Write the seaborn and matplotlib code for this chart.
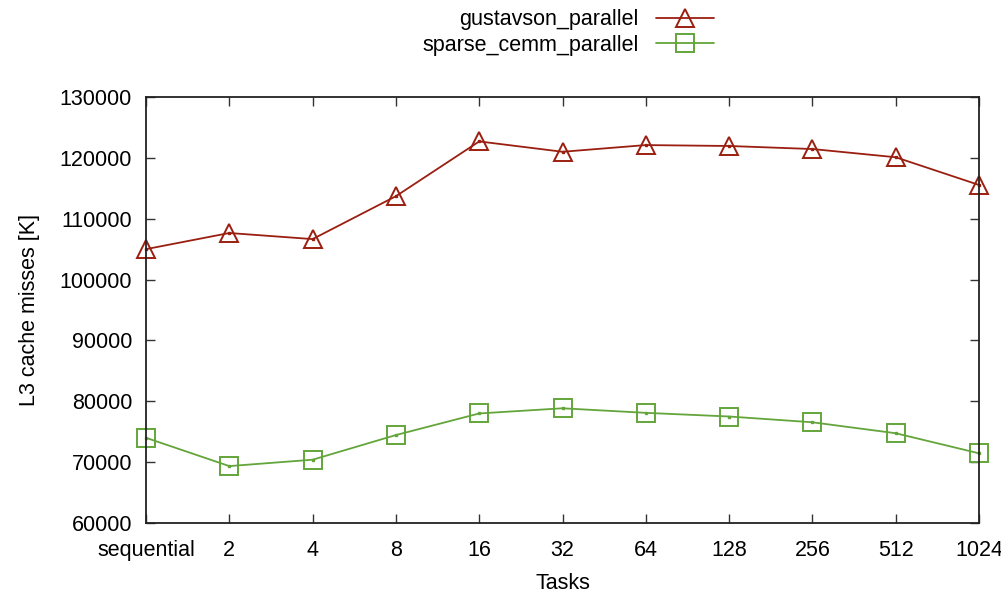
import matplotlib
matplotlib.use("Agg")
import matplotlib.pyplot as plt
import seaborn as sns
import pandas as pd

tasks = ["sequential", "2", "4", "8", "16", "32", "64", "128", "256", "512", "1024"]
gustavson_parallel = [105000, 107650, 106650, 113700, 122700, 121000, 122100, 121950, 121450, 120100, 115550]
sparse_cemm_parallel = [74000, 69350, 70400, 74450, 78000, 78850, 78100, 77500, 76550, 74750, 71450]
series_names = ["gustavson_parallel", "sparse_cemm_parallel"]

sns.set_theme(style="white")
plt.rcParams["font.family"] = ["Liberation Sans", "DejaVu Sans"]
plt.rcParams["text.color"] = "black"
plt.rcParams["axes.labelcolor"] = "black"
plt.rcParams["xtick.color"] = "black"
plt.rcParams["ytick.color"] = "black"

df = pd.DataFrame({
    "pos": list(range(len(tasks))) * 2,
    "misses": gustavson_parallel + sparse_cemm_parallel,
    "series": [series_names[0]] * len(tasks) + [series_names[1]] * len(tasks),
})

colors = {"gustavson_parallel": "#9a1f10", "sparse_cemm_parallel": "#63a53a"}
markers = {"gustavson_parallel": "^", "sparse_cemm_parallel": "s"}

fig = plt.figure(figsize=(10.01, 5.94), dpi=100)
ax = fig.add_axes([146 / 1001, 1 - 523 / 594, (979 - 146) / 1001, (523 - 97) / 594])

fs = 15.5
for name in series_names:
    sub = df[df["series"] == name]
    sns.lineplot(data=sub, x="pos", y="misses", ax=ax, color=colors[name],
                 marker=markers[name], markersize=13, markerfacecolor="none",
                 markeredgecolor=colors[name], markeredgewidth=1.4,
                 linewidth=1.3, label=name, clip_on=False)
    # small centre dot at each data point
    ax.plot(sub["pos"], sub["misses"], linestyle="none", marker="s", markersize=1.5,
            color=colors[name], clip_on=False)

ax.set_xlim(0, len(tasks) - 1)
ax.set_ylim(60000, 130000)
ax.set_xticks(range(len(tasks)))
ax.set_xticklabels(tasks)
ax.set_yticks(range(60000, 130001, 10000))
ax.set_xlabel("Tasks", fontsize=fs, labelpad=9)
ax.set_ylabel("L3 cache misses [K]", fontsize=fs, labelpad=14)

ax.tick_params(axis="both", direction="in", length=6.5, width=1, color="#333333",
               labelsize=fs, top=True, right=True, bottom=True, left=True)
ax.tick_params(axis="x", pad=12)
ax.tick_params(axis="y", pad=10)
for sp in ax.spines.values():
    sp.set_visible(True)
    sp.set_color("#222222")
    sp.set_linewidth(1.3)

handles, labels = ax.get_legend_handles_labels()
if ax.get_legend():
    ax.get_legend().remove()
leg = fig.legend(handles[:2], labels[:2], loc="upper right",
                 bbox_to_anchor=(718 / 1001, 1 - 5 / 594),
                 frameon=False, markerfirst=False, fontsize=fs, handlelength=2.7,
                 borderaxespad=0.0, borderpad=0.2, labelspacing=0.2, handletextpad=0.8)
for t in leg.get_texts():
    t.set_ha("right")

fig.savefig("out.png", dpi=100)
